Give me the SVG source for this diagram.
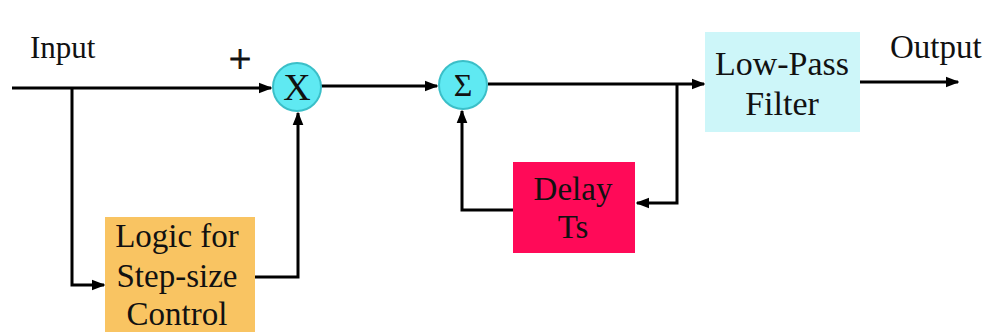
<svg xmlns="http://www.w3.org/2000/svg" width="990" height="332" viewBox="0 0 990 332">
<style>
.t{font-family:"Liberation Serif","Times New Roman",serif;fill:#111;text-anchor:middle}
.w{stroke:#000;stroke-width:3;fill:none}
.c{fill:#5FE9F2;stroke:#3BBFC8;stroke-width:2}
</style>
<defs>
<marker id="a" viewBox="0 0 10 10" refX="9" refY="5" markerWidth="4.5" markerHeight="4.5" orient="auto"><path d="M0,1 L10,5 L0,9 Z" fill="#000"/></marker>
</defs>
<rect width="990" height="332" fill="#fff"/>
<g id="connectors">
<path class="w" d="M12,88 H271" marker-end="url(#a)"/>
<path class="w" d="M72,88 V285 H104" marker-end="url(#a)"/>
<path class="w" d="M255,277 H298 V113" marker-end="url(#a)"/>
<path class="w" d="M321,86 H437" marker-end="url(#a)"/>
<path class="w" d="M488,84 H704" marker-end="url(#a)"/>
<path class="w" d="M677,84 V203 H637" marker-end="url(#a)"/>
<path class="w" d="M513,210 H462 V111" marker-end="url(#a)"/>
<path class="w" d="M860,82 H958" marker-end="url(#a)"/>
</g>
<g id="labels">
<text class="t" x="30" y="58" font-size="31" style="text-anchor:start">Input</text>
<text class="t" x="240" y="72" font-size="40" stroke="#111" stroke-width="0.8">+</text>
<text class="t" x="890" y="58" font-size="33" style="text-anchor:start">Output</text>
</g>
<g id="mult">
<circle class="c" cx="297" cy="87" r="24"/>
<text class="t" x="297" y="100" font-size="38">X</text>
</g>
<g id="sum">
<circle class="c" cx="463" cy="85" r="24"/>
<text class="t" x="463" y="96" font-size="32">Σ</text>
</g>
<g id="lpf">
<rect x="705" y="32" width="155" height="100" fill="#CDF6F9"/>
<text class="t" x="782" y="75" font-size="34">Low-Pass</text>
<text class="t" x="782" y="115" font-size="34">Filter</text>
</g>
<g id="delay">
<rect x="513" y="162" width="122" height="91" fill="#FF0A58"/>
<text class="t" x="573" y="200" font-size="33">Delay</text>
<text class="t" x="573" y="238" font-size="33">Ts</text>
</g>
<g id="logic">
<rect x="105" y="217" width="150" height="115" fill="#F9C462"/>
<text class="t" x="177" y="247" font-size="33">Logic for</text>
<text class="t" x="177" y="287" font-size="33">Step-size</text>
<text class="t" x="177" y="325" font-size="33">Control</text>
</g>
</svg>
